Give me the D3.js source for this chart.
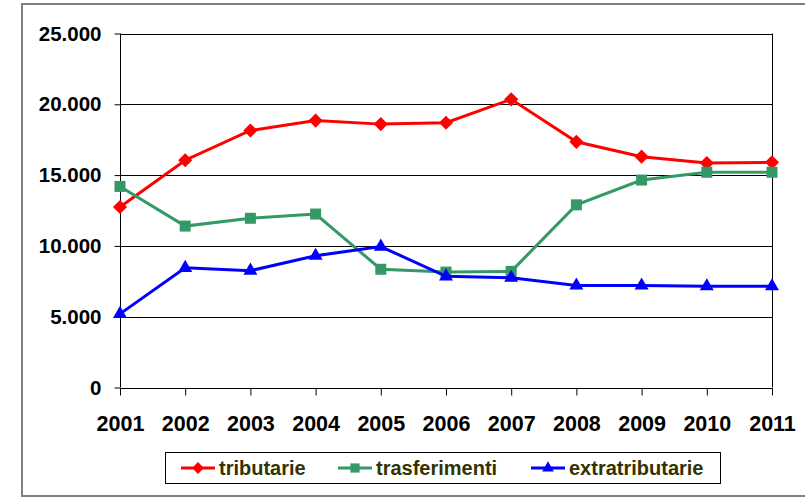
<!DOCTYPE html>
<html>
<head>
<meta charset="utf-8">
<script src="https://cdn.jsdelivr.net/npm/d3@7"></script>
<style>
  body { margin: 0; background: #fff; }
  .chart text { font-family: "Liberation Sans", Arial, sans-serif; font-weight: bold; }
</style>
</head>
<body>
<div class="chart"></div>
<script>
  var years = ["2001","2002","2003","2004","2005","2006","2007","2008","2009","2010","2011"];
  var tributarie      = [12750, 16050, 18150, 18850, 18600, 18700, 20350, 17350, 16300, 15850, 15900];
  var trasferimenti   = [14200, 11400, 11950, 12250, 8350, 8150, 8200, 12900, 14650, 15200, 15200];
  var extratributarie = [5200, 8450, 8250, 9300, 9950, 7850, 7750, 7200, 7200, 7150, 7150];
  var yTicks = [0, 5000, 10000, 15000, 20000, 25000];

  var series = [
    { name: "tributarie", values: tributarie, color: "#ff0000", symbol: d3.symbolSquare, size: 100, rot: 45 },
    { name: "trasferimenti", values: trasferimenti, color: "#339966", symbol: d3.symbolSquare, size: 121, rot: 0 },
    { name: "extratributarie", values: extratributarie, color: "#0000ff", symbol: d3.symbolTriangle, size: 85, rot: 0 }
  ];

  var W = 805, H = 498;
  var plot = { left: 120, right: 772, top: 33.5, bottom: 387.5 };

  var svg = d3.select(".chart").append("svg")
      .attr("width", W)
      .attr("height", H);

  // outer chart border
  svg.append("rect")
     .attr("x", 22).attr("y", 4)
     .attr("width", 820).attr("height", 492)
     .attr("fill", "none")
     .attr("stroke", "#808080")
     .attr("stroke-width", 2);

  var x = d3.scalePoint()
            .domain(years)
            .range([plot.left, plot.right]);

  var y = d3.scaleLinear()
            .domain([0, 25000])
            .range([plot.bottom, plot.top]);

  var fmt = function(v) { return d3.format(",")(v).replace(/,/g, "."); };

  // gridlines
  svg.append("g")
     .selectAll("line")
     .data(yTicks.slice(1))
     .enter().append("line")
     .attr("x1", plot.left).attr("x2", plot.right)
     .attr("y1", function(d) { return Math.round(y(d)) + 0.5; })
     .attr("y2", function(d) { return Math.round(y(d)) + 0.5; })
     .attr("stroke", "#000")
     .attr("stroke-width", 1);

  // right border of plot area
  svg.append("line")
     .attr("x1", plot.right + 0.5).attr("x2", plot.right + 0.5)
     .attr("y1", plot.top).attr("y2", plot.bottom)
     .attr("stroke", "#000");

  var yAxis = d3.axisLeft(y)
                .tickValues(yTicks)
                .tickSize(6)
                .tickPadding(13)
                .tickFormat(fmt);

  var xAxis = d3.axisBottom(x)
                .tickSize(7)
                .tickPadding(20);

  var gy = svg.append("g")
     .attr("transform", "translate(" + (plot.left + 0.5) + ",0)")
     .call(yAxis);
  gy.select(".domain").attr("d", "M0," + plot.top + "V" + plot.bottom);

  var gx = svg.append("g")
     .attr("transform", "translate(0," + (Math.round(plot.bottom) + 0.5) + ")")
     .call(xAxis);
  gx.select(".domain").attr("d", "M" + plot.left + ",0H" + (plot.right + 1));

  svg.selectAll(".tick text")
     .attr("fill", "#000")
     .style("font-size", "20.5px");
  gx.selectAll(".tick text").style("font-size", "21.5px").attr("dy", "0.72em");
  svg.selectAll(".domain, .tick line").attr("stroke", "#000");

  var line = d3.line()
               .x(function(d, i) { return x(years[i]); })
               .y(function(d) { return y(d); });

  series.forEach(function(s) {
    svg.append("path")
       .datum(s.values)
       .attr("fill", "none")
       .attr("stroke", s.color)
       .attr("stroke-width", 3)
       .attr("d", line);

    svg.append("g")
       .selectAll("path")
       .data(s.values)
       .enter().append("path")
       .attr("transform", function(d, i) {
          return "translate(" + x(years[i]) + "," + y(d) + ") rotate(" + s.rot + ")";
        })
       .attr("d", d3.symbol().type(s.symbol).size(s.size))
       .attr("fill", s.color);
  });

  // legend
  var legend = svg.append("g");
  legend.append("rect")
        .attr("x", 165.5).attr("y", 452.5)
        .attr("width", 555).attr("height", 31)
        .attr("fill", "#fff")
        .attr("stroke", "#000");

  var legX = [181, 338, 531];
  series.forEach(function(s, i) {
    var g = legend.append("g").attr("transform", "translate(" + legX[i] + ",468)");
    g.append("line")
     .attr("x1", 0).attr("x2", 34)
     .attr("stroke", s.color)
     .attr("stroke-width", 3);
    g.append("path")
     .attr("transform", "translate(17,0) rotate(" + s.rot + ")")
     .attr("d", d3.symbol().type(s.symbol).size(s.size * 0.7))
     .attr("fill", s.color);
    g.append("text")
     .attr("x", 38)
     .attr("dy", "0.36em")
     .attr("fill", "#333300")
     .style("font-size", "20px")
     .text(s.name);
  });
</script>
</body>
</html>
